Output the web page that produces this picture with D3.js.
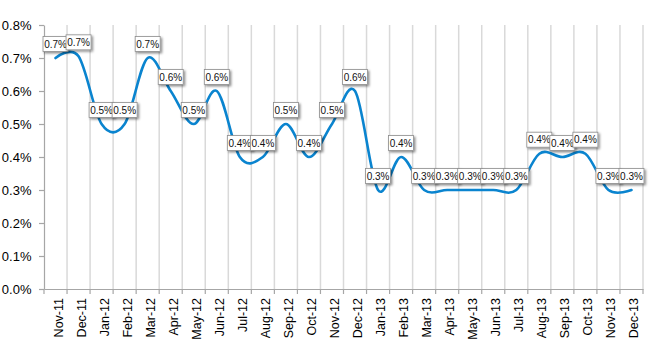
<!DOCTYPE html>
<html>
<head>
<meta charset="utf-8">
<script src="https://cdn.jsdelivr.net/npm/d3@7"></script>
<style>
  html, body { margin: 0; padding: 0; background: #fff; }
  svg { display: block; }
</style>
</head>
<body>
<svg id="chart" width="650" height="350"></svg>
<script>
const categories = ["Nov-11","Dec-11","Jan-12","Feb-12","Mar-12","Apr-12","May-12","Jun-12","Jul-12","Aug-12","Sep-12","Oct-12","Nov-12","Dec-12","Jan-13","Feb-13","Mar-13","Apr-13","May-13","Jun-13","Jul-13","Aug-13","Sep-13","Oct-13","Nov-13","Dec-13"];
const values = [0.70,0.705,0.50,0.50,0.70,0.60,0.50,0.60,0.40,0.40,0.50,0.40,0.50,0.60,0.30,0.40,0.30,0.30,0.30,0.30,0.30,0.41,0.40,0.41,0.30,0.30];
const yTicks = [0.0,0.1,0.2,0.3,0.4,0.5,0.6,0.7,0.8];

const margin = {left: 44, right: 7, top: 25, bottom: 61};
const W = 650, H = 350;
const svg = d3.select("#chart");

const x = d3.scaleBand().domain(categories).range([margin.left, W - margin.right]).paddingInner(0).paddingOuter(0);
const y = d3.scaleLinear().domain([0, 0.8]).range([H - margin.bottom, margin.top]);

const defs = svg.append("defs");
const f = defs.append("filter").attr("id", "shadow").attr("x", "-20%").attr("y", "-20%").attr("width", "150%").attr("height", "170%");
f.append("feDropShadow").attr("dx", 1.5).attr("dy", 1.5).attr("stdDeviation", 0.9).attr("flood-color", "#000").attr("flood-opacity", 0.45);

const bw = x.bandwidth();
const gridPos = categories.map(c => x(c) + bw);

// vertical gridlines (band boundaries)
svg.append("g").selectAll("line").data(gridPos).join("line")
  .attr("x1", d => d).attr("x2", d => d)
  .attr("y1", y(0.8)).attr("y2", y(0))
  .attr("stroke", "#d9d9d9").attr("stroke-width", 1.5);

// x axis
const xAxis = d3.axisBottom(x).tickSize(0).tickFormat(d => d);
const gx = svg.append("g").attr("transform", `translate(0,${y(0)})`).call(xAxis);
gx.select(".domain").attr("stroke", "#a6a6a6").attr("stroke-width", 1.2);
gx.selectAll(".tick text")
  .attr("transform", "rotate(-90)")
  .attr("text-anchor", "end")
  .attr("x", -9).attr("y", 7).attr("dy", 0)
  .attr("font-family", "'Liberation Sans Narrow', 'Liberation Sans', Arial, sans-serif")
  .attr("font-size", 12.5).attr("fill", "#000");
// x ticks at boundaries
svg.append("g").selectAll("line").data([margin.left].concat(gridPos)).join("line")
  .attr("x1", d => d).attr("x2", d => d)
  .attr("y1", y(0)).attr("y2", y(0) + 5)
  .attr("stroke", "#a6a6a6").attr("stroke-width", 1.2);

// y axis
const yAxis = d3.axisLeft(y).tickValues(yTicks).tickSize(5).tickSizeOuter(0).tickFormat(d => d3.format(".1f")(d) + "%");
const gy = svg.append("g").attr("transform", `translate(${margin.left},0)`).call(yAxis);
gy.select(".domain").attr("stroke", "#a6a6a6").attr("stroke-width", 1.2);
gy.selectAll(".tick line").attr("stroke", "#a6a6a6").attr("stroke-width", 1.2);
gy.selectAll(".tick text")
  .attr("x", -12.5)
  .attr("font-family", "'Liberation Sans', Arial, sans-serif")
  .attr("font-size", 13).attr("fill", "#000");

// line
const pts = categories.map((c, i) => [x(c) + bw / 2, y(values[i])]);
svg.append("path")
  .attr("d", d3.line().curve(d3.curveCatmullRom.alpha(0))(pts))
  .attr("fill", "none").attr("stroke", "#0a84cf").attr("stroke-width", 2.6)
  .attr("stroke-linecap", "round");

// data labels
const lab = svg.append("g").selectAll("g").data(categories).join("g")
  .attr("transform", (c, i) => `translate(${x(c) + bw / 2},${y(values[i])})`);
lab.append("rect")
  .attr("x", -12.5).attr("y", -21.5).attr("width", 25).attr("height", 15)
  .attr("fill", "#fff").attr("stroke", "#8c8c8c").attr("stroke-width", 0.8)
  .attr("filter", "url(#shadow)");
lab.append("text")
  .attr("x", 0).attr("y", -10.5)
  .attr("text-anchor", "middle")
  .attr("font-family", "'Liberation Sans Narrow', 'Liberation Sans', Arial, sans-serif")
  .attr("font-size", 10).attr("fill", "#111")
  .text((c, i) => d3.format(".1f")(values[i]) + "%");
</script>
</body>
</html>
